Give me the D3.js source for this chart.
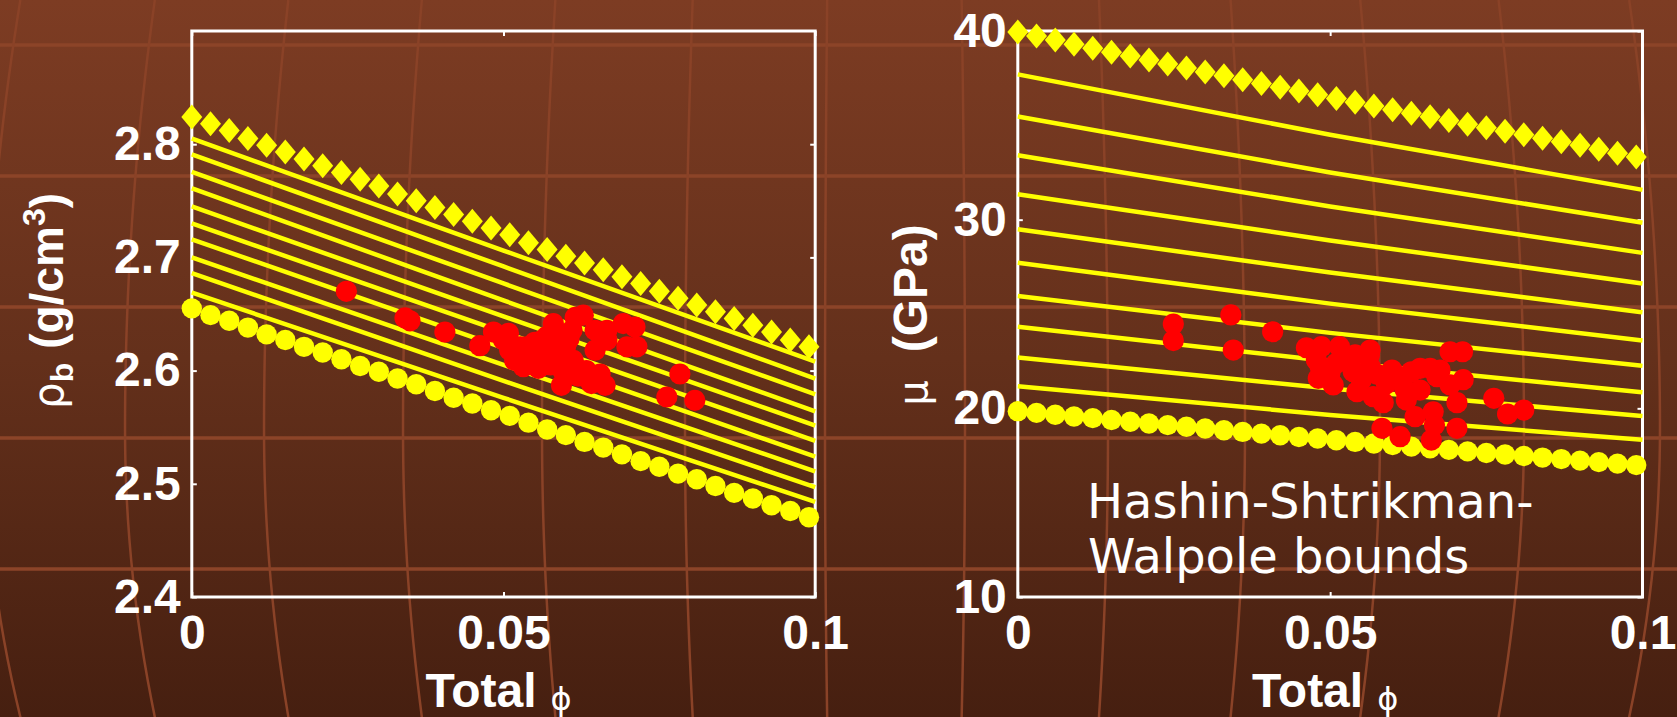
<!DOCTYPE html>
<html>
<head>
<meta charset="utf-8">
<script src="https://cdn.jsdelivr.net/npm/d3@7"></script>
<style>
  html, body { margin: 0; padding: 0; overflow: hidden; background: #5e2c19; }
  svg { display: block; }
</style>
</head>
<body>
<svg id="chart" width="1677" height="717"></svg>
<script>
// ---------- data ----------
// porosity grid shared by the two bound curves
const boundPhi = [0, 0.003, 0.006, 0.009, 0.012, 0.015, 0.018, 0.021, 0.024, 0.027,
  0.030, 0.033, 0.036, 0.039, 0.042, 0.045, 0.048, 0.051, 0.054, 0.057,
  0.060, 0.063, 0.066, 0.069, 0.072, 0.075, 0.078, 0.081, 0.084, 0.087,
  0.090, 0.093, 0.096, 0.099];

// bulk density (g/cm3): upper bound (diamonds) and lower bound (circles)
const rhoUpper = [2.824, 2.818, 2.812, 2.805, 2.799, 2.793, 2.787, 2.781, 2.775, 2.769,
  2.763, 2.756, 2.750, 2.744, 2.738, 2.732, 2.726, 2.720, 2.713, 2.707,
  2.701, 2.695, 2.689, 2.683, 2.677, 2.670, 2.664, 2.658, 2.652, 2.646,
  2.640, 2.634, 2.627, 2.621];
const rhoLower = [2.655, 2.649, 2.644, 2.638, 2.632, 2.627, 2.621, 2.616, 2.610, 2.604,
  2.599, 2.593, 2.588, 2.582, 2.576, 2.571, 2.565, 2.560, 2.554, 2.548,
  2.543, 2.537, 2.532, 2.526, 2.520, 2.515, 2.509, 2.504, 2.498, 2.492,
  2.487, 2.481, 2.476, 2.4705];

// shear modulus (GPa): upper bound (diamonds) and lower bound (circles)
const muUpper = [39.95, 39.73, 39.52, 39.30, 39.09, 38.88, 38.67, 38.46, 38.25, 38.04,
  37.83, 37.63, 37.42, 37.22, 37.02, 36.82, 36.62, 36.42, 36.22, 36.03,
  35.83, 35.64, 35.45, 35.25, 35.06, 34.87, 34.69, 34.50, 34.31, 34.13,
  33.95, 33.73, 33.52, 33.32];
const muLower = [19.85, 19.76, 19.66, 19.57, 19.48, 19.38, 19.29, 19.20, 19.11, 19.02,
  18.93, 18.84, 18.75, 18.66, 18.57, 18.48, 18.40, 18.31, 18.22, 18.14,
  18.05, 17.97, 17.88, 17.80, 17.72, 17.63, 17.55, 17.47, 17.39, 17.31,
  17.23, 17.15, 17.07, 16.99];

// intermediate mixing curves, sampled at these porosities
const curvePhi = [0, 0.05, 0.1];
const rhoCurves = [
  [2.805, 2.706, 2.608],
  [2.791, 2.692, 2.593],
  [2.7755, 2.677, 2.579],
  [2.761, 2.662, 2.564],
  [2.745, 2.648, 2.5515],
  [2.730, 2.634, 2.538],
  [2.716, 2.620, 2.524],
  [2.700, 2.605, 2.511],
  [2.686, 2.591, 2.497],
  [2.669, 2.576, 2.484]
];
const muCurves = [
  [37.70, 34.50, 31.58],
  [35.47, 32.50, 29.84],
  [33.41, 30.70, 28.24],
  [31.35, 28.90, 26.62],
  [29.49, 27.20, 25.09],
  [27.72, 25.55, 23.59],
  [25.95, 24.00, 22.25],
  [24.33, 22.50, 20.85],
  [22.70, 21.05, 19.59],
  [21.17, 19.65, 18.33]
];

// measured samples: density vs porosity
const rhoSamplePhi = [0.0248, 0.0342, 0.0350, 0.0406, 0.0462, 0.0484, 0.0500, 0.0508, 0.0510, 0.0518,
  0.0527, 0.0532, 0.0537, 0.0540, 0.0550, 0.0556, 0.0560, 0.0564, 0.0569, 0.0575,
  0.0580, 0.0585, 0.0593, 0.0595, 0.0600, 0.0601, 0.0605, 0.0610, 0.0612, 0.0615,
  0.0620, 0.0628, 0.0633, 0.0641, 0.0647, 0.0647, 0.0655, 0.0663, 0.0666, 0.0666,
  0.0692, 0.0698, 0.0711, 0.0714, 0.0762, 0.0783, 0.0807, 0.0575, 0.0590, 0.0545];
const rhoSampleVal = [2.670, 2.6465, 2.644, 2.634, 2.622, 2.634, 2.627, 2.633, 2.618, 2.609,
  2.621, 2.6035, 2.621, 2.613, 2.625, 2.602, 2.626, 2.615, 2.630, 2.605,
  2.6415, 2.612, 2.587, 2.600, 2.622, 2.612, 2.628, 2.6356, 2.609, 2.647,
  2.595, 2.649, 2.600, 2.5885, 2.618, 2.6356, 2.597, 2.587, 2.6356, 2.627,
  2.6415, 2.621, 2.6385, 2.621, 2.5767, 2.597, 2.5737, 2.620, 2.630, 2.617];

// measured samples: shear modulus vs porosity
const muSamplePhi = [0.0249, 0.0249, 0.0341, 0.0345, 0.0408, 0.0462, 0.0478, 0.0481, 0.0484, 0.0486,
  0.0505, 0.0500, 0.0510, 0.0515, 0.0525, 0.0537, 0.0540, 0.0543, 0.0563, 0.0564,
  0.0564, 0.0569, 0.0583, 0.0590, 0.0599, 0.0605, 0.0612, 0.0622, 0.0630, 0.0636,
  0.0644, 0.0644, 0.0660, 0.0662, 0.0665, 0.0667, 0.0671, 0.0676, 0.0692, 0.0692,
  0.0703, 0.0703, 0.0712, 0.0713, 0.0762, 0.0784, 0.0810, 0.0575, 0.0550, 0.0620,
  0.0585];
const muSampleVal = [24.47, 23.59, 24.95, 23.09, 24.06, 23.21, 22.56, 21.59, 22.21, 23.27,
  21.24, 21.90, 22.39, 23.27, 22.60, 21.94, 22.83, 20.88, 22.83, 22.21,
  23.09, 20.62, 18.94, 21.30, 22.03, 21.60, 18.50, 20.44, 21.94, 19.56,
  20.97, 22.12, 22.12, 18.32, 19.82, 19.12, 21.68, 22.03, 21.24, 23.00,
  18.94, 20.30, 23.00, 21.52, 20.53, 19.70, 19.91, 21.80, 21.50, 21.00,
  20.30];

// axis ticks
const xTicks = [0, 0.05, 0.1];
const xTickLabels = ["0", "0.05", "0.1"];
const rhoTicks = [2.4, 2.5, 2.6, 2.7, 2.8];
const rhoTickLabels = ["2.4", "2.5", "2.6", "2.7", "2.8"];
const muTicks = [10, 20, 30, 40];
const muTickLabels = ["10", "20", "30", "40"];

// ---------- drawing ----------
const W = 1677, H = 717;
const svg = d3.select("#chart");

const YELLOW = "#ffff00", RED = "#ff0000", WHITE = "#ffffff";
const BOLD_FONT = "'Liberation Sans', Arial, Helvetica, sans-serif";
const GREEK_FONT = "'DejaVu Sans', sans-serif";

// background: warm brown gradient with a faint globe-like grid
const defs = svg.append("defs");
const grad = defs.append("linearGradient").attr("id", "bg").attr("x1", 0).attr("y1", 0).attr("x2", 0).attr("y2", 1);
grad.append("stop").attr("offset", "0%").attr("stop-color", "#7d3c23");
grad.append("stop").attr("offset", "50%").attr("stop-color", "#64301b");
grad.append("stop").attr("offset", "100%").attr("stop-color", "#461f10");
svg.append("rect").attr("width", W).attr("height", H).attr("fill", "url(#bg)");

const bgGrid = svg.append("g").attr("fill", "none");
[45, 176, 307, 438, 569].forEach(yy => {
  bgGrid.append("line").attr("x1", 0).attr("x2", W).attr("y1", yy).attr("y2", yy)
    .attr("stroke", "#8c4428").attr("stroke-width", 3.5);
});
const meridianLine = d3.line().curve(d3.curveBasis);
[-15, 125, 264, 403, 542, 685, 825, 965, 1108, 1245, 1380, 1524, 1660].forEach(x0 => {
  const d = 30 * Math.max(-1.05, Math.min(1.2, (880 - x0) / 760));
  const pts = d3.range(0, H + 20, 20).map(yy => {
    const t = yy < 430 ? (yy - 430) / 430 : (yy - 430) / 287;
    return [x0 + d * t * t, yy];
  });
  bgGrid.append("path").attr("d", meridianLine(pts))
    .attr("stroke", "#8a4227").attr("stroke-width", 2.5);
});

function panel(opts) {
  const { left, right, top, bottom, yDomain, yTicks, yTickLabels,
          upper, lower, curves, samplePhi, sampleVal } = opts;
  const x = d3.scaleLinear().domain([0, 0.1]).range([left, right]);
  const y = d3.scaleLinear().domain(yDomain).range([bottom, top]);
  const g = svg.append("g");

  // axes with small inward ticks on all four sides
  const fmtX = d => xTickLabels[xTicks.indexOf(d)];
  const fmtY = d => yTickLabels[yTicks.indexOf(d)];
  const styleAxis = sel => {
    sel.select(".domain").remove();
    sel.selectAll(".tick line").attr("stroke", WHITE).attr("stroke-width", 2);
    sel.selectAll(".tick text").attr("fill", WHITE)
      .style("font-family", BOLD_FONT).style("font-weight", "bold").style("font-size", "48px");
  };
  g.append("g").attr("transform", `translate(0,${bottom})`)
    .call(d3.axisBottom(x).tickValues(xTicks).tickFormat(fmtX).tickSize(-5).tickPadding(18))
    .call(styleAxis);
  g.append("g").attr("transform", `translate(0,${top})`)
    .call(d3.axisTop(x).tickValues(xTicks).tickFormat("").tickSize(-5))
    .call(styleAxis);
  g.append("g").attr("transform", `translate(${left},0)`)
    .call(d3.axisLeft(y).tickValues(yTicks).tickFormat(fmtY).tickSize(-5).tickPadding(11))
    .call(styleAxis);
  g.append("g").attr("transform", `translate(${right},0)`)
    .call(d3.axisRight(y).tickValues(yTicks).tickFormat("").tickSize(-5))
    .call(styleAxis);

  // plot frame
  g.append("rect").attr("x", left).attr("y", top)
    .attr("width", right - left).attr("height", bottom - top)
    .attr("fill", "none").attr("stroke", WHITE).attr("stroke-width", 3);

  // intermediate mixing curves
  const line = d3.line().x((d, i) => x(curvePhi[i])).y(d => y(d)).curve(d3.curveMonotoneX);
  g.append("g").selectAll("path").data(curves).join("path")
    .attr("d", line).attr("fill", "none").attr("stroke", YELLOW).attr("stroke-width", 4.5);

  // upper bound: diamonds
  g.append("g").selectAll("path").data(upper).join("path")
    .attr("d", "M0,-12.5L10.5,0L0,12.5L-10.5,0Z")
    .attr("transform", (d, i) => `translate(${x(boundPhi[i])},${y(d)})`)
    .attr("fill", YELLOW);

  // lower bound: circles
  g.append("g").selectAll("circle").data(lower).join("circle")
    .attr("cx", (d, i) => x(boundPhi[i])).attr("cy", d => y(d)).attr("r", 10.2)
    .attr("fill", YELLOW);

  // measured samples
  g.append("g").selectAll("circle").data(sampleVal).join("circle")
    .attr("cx", (d, i) => x(samplePhi[i])).attr("cy", d => y(d)).attr("r", 10.6)
    .attr("fill", RED);

  // x-axis title: "Total ϕ"
  const xt = g.append("text").attr("x", (left + right) / 2 - 5).attr("y", 707)
    .attr("text-anchor", "middle").attr("fill", WHITE);
  xt.append("tspan").text("Total")
    .style("font-family", BOLD_FONT).style("font-weight", "bold").style("font-size", "48px");
  xt.append("tspan").text("ϕ").attr("dx", 14).attr("dy", 3)
    .style("font-family", GREEK_FONT).style("font-size", "32px");
  return g;
}

const left = panel({
  left: 191.8, right: 815.2, top: 31, bottom: 597,
  yDomain: [2.4, 2.9], yTicks: rhoTicks, yTickLabels: rhoTickLabels,
  upper: rhoUpper, lower: rhoLower, curves: rhoCurves,
  samplePhi: rhoSamplePhi, sampleVal: rhoSampleVal
});
const right = panel({
  left: 1017.8, right: 1642.5, top: 31, bottom: 597,
  yDomain: [10, 40], yTicks: muTicks, yTickLabels: muTickLabels,
  upper: muUpper, lower: muLower, curves: muCurves,
  samplePhi: muSamplePhi, sampleVal: muSampleVal
});

// y-axis titles (rotated)
const ytL = svg.append("text").attr("transform", "translate(63,301) rotate(-90)")
  .attr("text-anchor", "middle").attr("fill", WHITE);
ytL.append("tspan").text("ρ").style("font-family", GREEK_FONT).style("font-size", "42px");
ytL.append("tspan").text("b").attr("dy", 10)
  .style("font-family", BOLD_FONT).style("font-weight", "bold").style("font-size", "32px");
ytL.append("tspan").text("(g/cm").attr("dy", -10).attr("dx", 14)
  .style("font-family", BOLD_FONT).style("font-weight", "bold").style("font-size", "46px");
ytL.append("tspan").text("3").attr("dy", -18)
  .style("font-family", BOLD_FONT).style("font-weight", "bold").style("font-size", "32px");
ytL.append("tspan").text(")").attr("dy", 18)
  .style("font-family", BOLD_FONT).style("font-weight", "bold").style("font-size", "46px");

const ytR = svg.append("text").attr("transform", "translate(927,315) rotate(-90)")
  .attr("text-anchor", "middle").attr("fill", WHITE);
ytR.append("tspan").text("μ").style("font-family", GREEK_FONT).style("font-size", "40px");
ytR.append("tspan").text("(GPa)").attr("dx", 28)
  .style("font-family", BOLD_FONT).style("font-weight", "bold").style("font-size", "48px");

// annotation in the shear-modulus panel
const note = svg.append("text").attr("fill", WHITE)
  .style("font-family", "'DejaVu Sans', Verdana, sans-serif").style("font-size", "48px");
note.append("tspan").attr("x", 1087).attr("y", 518).text("Hashin-Shtrikman-");
note.append("tspan").attr("x", 1088).attr("y", 573).text("Walpole bounds");
</script>
</body>
</html>
